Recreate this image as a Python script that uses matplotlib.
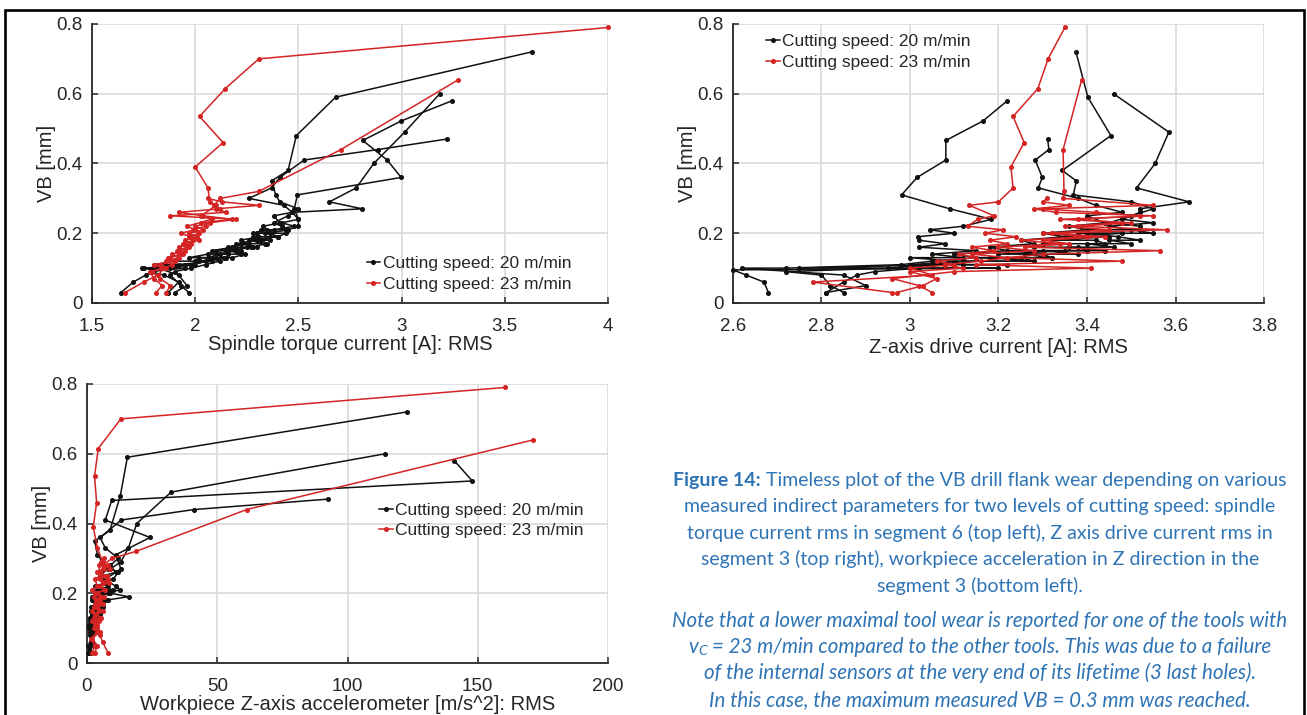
import matplotlib
matplotlib.use("Agg")
import matplotlib.pyplot as plt
from matplotlib.lines import Line2D
from matplotlib.patches import Rectangle

plt.rcParams['font.family'] = ['Liberation Sans', 'DejaVu Sans']

# ---------------- data: VB per tool (shared by all three panels) ----------------
vb_b1 = [0.03, 0.06, 0.08, 0.095, 0.10, 0.10, 0.11, 0.11, 0.11, 0.12, 0.12, 0.13, 0.13, 0.13, 0.14, 0.14,
         0.15, 0.15, 0.15, 0.16, 0.16, 0.17, 0.17, 0.18, 0.18, 0.19, 0.19, 0.20, 0.20, 0.21, 0.21, 0.22,
         0.23, 0.25, 0.27, 0.29, 0.31, 0.35, 0.38, 0.48, 0.59, 0.72]
vb_b2 = [0.03, 0.06, 0.08, 0.09, 0.10, 0.10, 0.11, 0.11, 0.12, 0.12, 0.13, 0.13, 0.14, 0.14, 0.15, 0.15,
         0.16, 0.16, 0.17, 0.17, 0.18, 0.18, 0.19, 0.20, 0.20, 0.21, 0.22, 0.23, 0.24, 0.26, 0.27, 0.29,
         0.33, 0.40, 0.49, 0.60]
vb_b3 = [0.03, 0.05, 0.08, 0.09, 0.10, 0.11, 0.12, 0.13, 0.13, 0.14, 0.15, 0.16, 0.17, 0.18, 0.19, 0.20,
         0.21, 0.22, 0.24, 0.27, 0.31, 0.36, 0.41, 0.466, 0.522, 0.58]
vb_b4 = [0.03, 0.05, 0.08, 0.10, 0.10, 0.11, 0.12, 0.13, 0.14, 0.15, 0.16, 0.17, 0.18, 0.19, 0.20, 0.21,
         0.22, 0.23, 0.25, 0.26, 0.28, 0.30, 0.33, 0.36, 0.41, 0.44, 0.47]
vb_ra = [0.03, 0.06, 0.08, 0.10, 0.11, 0.12, 0.13, 0.14, 0.15, 0.16, 0.17, 0.18, 0.19, 0.20, 0.21, 0.22,
         0.24, 0.25, 0.28, 0.29, 0.33, 0.39, 0.46, 0.535, 0.615, 0.70, 0.79]
vb_rb = [0.03, 0.05, 0.07, 0.09, 0.10, 0.11, 0.12, 0.13, 0.14, 0.15, 0.16, 0.17, 0.18, 0.19, 0.20, 0.21,
         0.22, 0.23, 0.24, 0.25, 0.26, 0.27, 0.28, 0.30, 0.32, 0.44, 0.64]
vb_rc = [0.03, 0.05, 0.07, 0.09, 0.10, 0.11, 0.12, 0.13, 0.14, 0.15, 0.16, 0.17, 0.18, 0.19, 0.20, 0.21,
         0.22, 0.23, 0.24, 0.25, 0.26, 0.27, 0.28, 0.29, 0.30]

# spindle torque current RMS [A]
torque_b1 = [1.64, 1.70, 1.76, 1.80, 1.74, 1.88, 1.86, 1.95, 1.80, 1.90, 2.00, 2.02, 2.10, 1.97, 2.06, 2.16,
             2.15, 2.22, 2.08, 2.18, 2.27, 2.26, 2.20, 2.30, 2.36, 2.28, 2.40, 2.36, 2.30, 2.32, 2.44, 2.42,
             2.38, 2.45, 2.50, 2.41, 2.39, 2.37, 2.45, 2.49, 2.68, 3.63]
torque_b2 = [1.87, 1.92, 1.85, 1.78, 1.95, 1.84, 2.00, 1.92, 2.08, 2.02, 2.15, 2.06, 2.12, 2.22, 2.20, 2.10,
             2.25, 2.30, 2.22, 2.35, 2.32, 2.26, 2.40, 2.44, 2.34, 2.38, 2.48, 2.42, 2.50, 2.47, 2.81, 2.65,
             2.78, 2.865, 3.015, 3.185]
torque_b3 = [1.97, 1.93, 1.88, 1.90, 1.98, 2.05, 2.12, 2.08, 2.18, 2.24, 2.16, 2.28, 2.34, 2.26, 2.40, 2.36,
             2.45, 2.50, 2.50, 2.48, 2.495, 2.998, 2.93, 2.812, 2.998, 3.245]
torque_b4 = [1.90, 1.96, 1.92, 1.82, 1.75, 1.98, 2.05, 2.14, 2.10, 2.20, 2.16, 2.26, 2.22, 2.31, 2.28, 2.35,
             2.33, 2.41, 2.38, 2.47, 2.43, 2.26, 2.37, 2.41, 2.528, 2.885, 3.218]
torque_ra = [1.66, 1.75, 1.82, 1.85, 1.80, 1.90, 1.88, 1.94, 1.92, 1.97, 1.95, 2.02, 1.98, 1.93, 2.00, 1.96,
             2.08, 2.03, 2.10, 2.07, 2.062, 2.00, 2.135, 2.021, 2.146, 2.308, 4.0]
torque_rb = [1.81, 1.84, 1.80, 1.78, 1.86, 1.83, 1.90, 1.87, 1.93, 1.91, 1.96, 1.94, 1.99, 1.97, 2.02, 1.99,
             2.05, 2.03, 2.18, 2.04, 1.92, 2.12, 2.09, 2.122, 2.308, 2.706, 3.274]
torque_rc = [1.86, 1.88, 1.83, 1.79, 1.84, 1.89, 1.86, 1.92, 1.89, 1.95, 1.92, 1.98, 1.95, 2.01, 1.97, 2.04,
             2.00, 2.07, 2.20, 1.88, 2.15, 2.10, 2.31, 2.13, 2.06]

# Z-axis drive current RMS [A]
zaxis_b1 = [2.68, 2.67, 2.63, 2.60, 3.20, 3.00, 3.05, 3.22, 3.12, 3.10, 3.28, 3.25, 3.15, 3.32, 3.30, 3.20,
            3.35, 3.22, 3.40, 3.38, 3.28, 3.30, 3.44, 3.42, 3.32, 3.45, 3.35, 3.48, 3.38, 3.40, 3.52, 3.52,
            3.45, 3.50, 3.55, 3.50, 3.369, 3.376, 3.344, 3.454, 3.402, 3.375]
zaxis_b2 = [2.81, 2.85, 2.88, 2.92, 3.02, 2.75, 3.08, 3.00, 3.12, 3.28, 3.18, 3.32, 3.26, 3.38, 3.30, 3.44,
            3.36, 3.46, 3.40, 3.50, 3.45, 3.52, 3.47, 3.40, 3.55, 3.50, 3.45, 3.55, 3.48, 3.52, 3.519, 3.631,
            3.512, 3.554, 3.585, 3.46]
zaxis_b3 = [2.85, 2.82, 2.80, 2.72, 2.95, 3.05, 3.10, 3.00, 3.12, 3.05, 3.15, 3.02, 3.08, 3.02, 3.017, 3.10,
            3.045, 3.12, 3.184, 3.09, 2.981, 3.016, 3.081, 3.081, 3.165, 3.22]
zaxis_b4 = [2.81, 2.90, 2.85, 2.62, 2.72, 2.98, 3.05, 3.15, 3.10, 3.22, 3.18, 3.28, 3.25, 3.35, 3.30, 3.40,
            3.36, 3.44, 3.40, 3.48, 3.42, 3.38, 3.29, 3.299, 3.283, 3.314, 3.311]
zaxis_ra = [2.96, 2.78, 3.05, 3.00, 3.10, 3.06, 3.15, 3.11, 3.19, 3.14, 3.22, 3.18, 3.24, 3.17, 3.21, 3.130,
            3.153, 3.19, 3.134, 3.20, 3.233, 3.228, 3.258, 3.233, 3.289, 3.312, 3.35]
zaxis_rb = [2.97, 3.03, 3.06, 3.00, 3.12, 3.08, 3.16, 3.22, 3.14, 3.28, 3.20, 3.34, 3.25, 3.40, 3.30, 3.45,
            3.35, 3.48, 3.38, 3.52, 3.42, 3.30, 3.55, 3.346, 3.348, 3.346, 3.388]
zaxis_rc = [3.05, 3.02, 2.96, 3.10, 3.41, 3.15, 3.48, 3.22, 3.30, 3.565, 3.26, 3.36, 3.30, 3.44, 3.32, 3.58,
            3.38, 3.50, 3.34, 3.55, 3.33, 3.28, 3.36, 3.30, 3.31]

# workpiece Z-axis accelerometer RMS [m/s^2]
accel_b1 = [1.5, 2.0, 1.0, 2.5, 1.5, 1.0, 2.0, 3.0, 1.2, 1.5, 2.2, 2.5, 1.0, 3.0, 3.5, 1.8,
            2.0, 4.0, 1.5, 2.5, 3.5, 3.0, 5.0, 3.5, 2.0, 2.0, 4.5, 6.0, 3.0, 4.0, 7.5, 3.0,
            7.0, 5.0, 8.0, 6.0, 4.0, 3.0, 8.8, 12.8, 15.5, 122.9]
accel_b2 = [1.0, 2.0, 1.5, 3.0, 2.0, 1.0, 1.0, 2.5, 3.5, 2.5, 4.0, 1.5, 2.0, 5.0, 3.0, 2.0,
            6.0, 4.5, 3.0, 5.5, 3.0, 7.0, 16.0, 9.0, 4.0, 5.0, 8.0, 6.0, 10.0, 12.0, 9.0, 13.0,
            15.9, 19.1, 32.3, 114.5]
accel_b3 = [1.0, 0.5, 2.0, 1.0, 1.5, 0.8, 2.5, 1.2, 3.0, 2.0, 1.5, 4.0, 3.0, 8.0, 5.0, 8.0,
            12.5, 11.0, 7.0, 13.0, 11.0, 24.2, 7.0, 9.5, 147.9, 141.0]
accel_b4 = [0.5, 1.0, 2.0, 0.8, 1.5, 2.5, 1.0, 3.0, 2.0, 4.0, 1.5, 3.5, 6.0, 2.5, 5.0, 10.0,
            4.0, 8.0, 6.0, 11.0, 9.0, 12.0, 7.0, 5.0, 13.2, 41.1, 92.7]
accel_ra = [8.0, 6.0, 5.0, 4.0, 3.0, 4.5, 2.5, 3.5, 2.0, 4.0, 3.0, 5.0, 2.5, 3.5, 2.0, 4.0,
            3.0, 5.0, 4.5, 6.0, 4.0, 2.4, 3.7, 2.9, 4.3, 13.0, 160.3]
accel_rb = [3.0, 4.0, 2.0, 5.0, 3.0, 4.0, 2.5, 5.5, 3.0, 6.0, 4.0, 5.0, 3.5, 6.5, 4.0, 7.0,
            5.0, 6.0, 8.0, 7.0, 5.0, 9.0, 6.0, 9.6, 18.8, 61.3, 171.4]
accel_rc = [2.0, 3.0, 1.5, 4.0, 2.5, 3.5, 2.0, 5.0, 3.0, 4.5, 2.5, 6.0, 3.5, 5.0, 3.0, 7.0,
            4.0, 8.5, 5.0, 7.5, 4.0, 6.0, 8.0, 5.5, 6.5]

legend_labels = ['Cutting speed: 20 m/min', 'Cutting speed: 23 m/min']
y_ticks = [0, 0.2, 0.4, 0.6, 0.8]
y_ticklabels = ['0', '0.2', '0.4', '0.6', '0.8']
tl_xticks = [1.5, 2, 2.5, 3, 3.5, 4]
tl_xticklabels = ['1.5', '2', '2.5', '3', '3.5', '4']
tr_xticks = [2.6, 2.8, 3.0, 3.2, 3.4, 3.6, 3.8]
tr_xticklabels = ['2.6', '2.8', '3', '3.2', '3.4', '3.6', '3.8']
bl_xticks = [0, 50, 100, 150, 200]
bl_xticklabels = ['0', '50', '100', '150', '200']

vb_black = [vb_b1, vb_b2, vb_b3, vb_b4]
vb_red = [vb_ra, vb_rb, vb_rc]

# ---------------- styling ----------------
BLACK = '#111111'
RED = '#d42424'
GRID = '#dcdcdc'
AXC = '#262626'
W, H = 1307, 715

fig = plt.figure(figsize=(W / 100, H / 100), dpi=100)


def px_axes(x0, x1, y0, y1):
    return fig.add_axes([x0 / W, 1 - y1 / H, (x1 - x0) / W, (y1 - y0) / H])


def style(ax, xlim, xticks, xticklabels, xlabel, xlabelpad, ylabelpad):
    ax.set_xlim(*xlim)
    ax.set_ylim(0, 0.8)
    ax.set_xticks(xticks)
    ax.set_xticklabels(xticklabels)
    ax.set_yticks(y_ticks)
    ax.set_yticklabels(y_ticklabels)
    ax.grid(True, color=GRID, lw=1.3)
    ax.set_axisbelow(True)
    for s in ['top', 'right']:
        ax.spines[s].set_visible(False)
    for s in ['left', 'bottom']:
        ax.spines[s].set_color(AXC)
        ax.spines[s].set_linewidth(1.3)
    ax.tick_params(direction='in', length=4, width=1.1, color=AXC, labelcolor=AXC, labelsize=13.5)
    ax.tick_params(axis='x', pad=11)
    ax.tick_params(axis='y', pad=7)
    ax.set_xlabel(xlabel, fontsize=14.5, color=AXC, labelpad=xlabelpad)
    ax.set_ylabel('VB [mm]', fontsize=14.5, color=AXC, labelpad=ylabelpad)


def draw(ax, xs_black, xs_red):
    for xs, vb in zip(xs_black, vb_black):
        ax.plot(xs, vb, '-', color=BLACK, lw=1.1, marker='o', ms=2.6, clip_on=False, zorder=3)
    for xs, vb in zip(xs_red, vb_red):
        ax.plot(xs, vb, '-', color=RED, lw=1.1, marker='o', ms=2.6, clip_on=False, zorder=3)


def legend(ax, anchor):
    handles = [Line2D([], [], color=BLACK, lw=1.1, marker='o', ms=2.6),
               Line2D([], [], color=RED, lw=1.1, marker='o', ms=2.6)]
    ax.legend(handles, legend_labels, loc='upper left', bbox_to_anchor=anchor, frameon=False,
              fontsize=12.5, handlelength=0.8, handletextpad=0.15, labelspacing=0.32,
              borderpad=0, borderaxespad=0, labelcolor=AXC)


ax1 = px_axes(92, 608, 24, 303)
style(ax1, (1.5, 4), tl_xticks, tl_xticklabels, 'Spindle torque current [A]: RMS', 0, 0)
draw(ax1, [torque_b1, torque_b2, torque_b3, torque_b4], [torque_ra, torque_rb, torque_rc])
legend(ax1, (0.532, 0.168))

ax2 = px_axes(733, 1264, 24, 303)
style(ax2, (2.6, 3.8), tr_xticks, tr_xticklabels, 'Z-axis drive current [A]: RMS', 2, 0)
draw(ax2, [zaxis_b1, zaxis_b2, zaxis_b3, zaxis_b4], [zaxis_ra, zaxis_rb, zaxis_rc])
legend(ax2, (0.062, 0.965))

ax3 = px_axes(87, 608, 384, 663)
style(ax3, (0, 200), bl_xticks, bl_xticklabels, 'Workpiece Z-axis accelerometer [m/s^2]: RMS', 0, 0)
draw(ax3, [accel_b1, accel_b2, accel_b3, accel_b4], [accel_ra, accel_rb, accel_rc])
legend(ax3, (0.56, 0.575))

# figure frame
fig.add_artist(Rectangle((4.5 / W, -0.05), (1304 - 4.5) / W, 1.05 - 9.5 / H, transform=fig.transFigure,
                         fill=False, edgecolor='black', lw=1.9))

# ---------------- caption ----------------
CAP = '#2e74b5'
CFS = 14.0
IFS = 14.8
renderer = fig.canvas.get_renderer()


def text_width(s, **kw):
    t = fig.text(0, 0, s, **kw)
    w = t.get_window_extent(renderer).width
    t.remove()
    return w


def line(cx, base_px, parts):
    # parts: (text, kwargs, gap_before_in_spaces, dy_px)
    widths = []
    total = 0
    for txt, kw, gap, dy in parts:
        sp = text_width('a a', **kw) - text_width('aa', **kw)
        w = text_width(txt, **kw)
        widths.append((sp * gap, w))
        total += sp * gap + w
    x = cx - total / 2
    for (txt, kw, gap, dy), (g, w) in zip(parts, widths):
        x += g
        fig.text(x / W, 1 - (base_px + dy) / H, txt, va='baseline', ha='left', **kw)
        x += w


base_kw = dict(family='Lato', fontsize=CFS, color=CAP)
bold_kw = dict(family='Lato', fontsize=CFS, color=CAP, weight='bold')
ital_kw = dict(family='Lato', fontsize=IFS, color=CAP, style='italic')
sub_kw = dict(family='Lato', fontsize=IFS * 0.68, color=CAP, style='italic')

cx = 980
line(cx, 486, [('Figure 14:', bold_kw, 0, 0),
               ('Timeless plot of the VB drill flank wear depending on various', base_kw, 1, 0)])
line(cx, 512, [('measured indirect parameters for two levels of cutting speed: spindle', base_kw, 0, 0)])
line(cx, 539, [('torque current rms in segment 6 (top left), Z axis drive current rms in', base_kw, 0, 0)])
line(cx, 565, [('segment 3 (top right), workpiece acceleration in Z direction in the', base_kw, 0, 0)])
line(cx, 592, [('segment 3 (bottom left).', base_kw, 0, 0)])
line(cx, 627, [('Note that a lower maximal tool wear is reported for one of the tools with', ital_kw, 0, 0)])
line(cx, 653, [('v', ital_kw, 0, 0), ('C', sub_kw, 0, 2),
               ('= 23 m/min compared to the other tools. This was due to a failure', ital_kw, 1, 0)])
line(cx, 679, [('of the internal sensors at the very end of its lifetime (3 last holes).', ital_kw, 0, 0)])
line(cx, 706, [('In this case, the maximum measured VB = 0.3 mm was reached.', ital_kw, 0, 0)])

fig.savefig('out.png', dpi=100)
